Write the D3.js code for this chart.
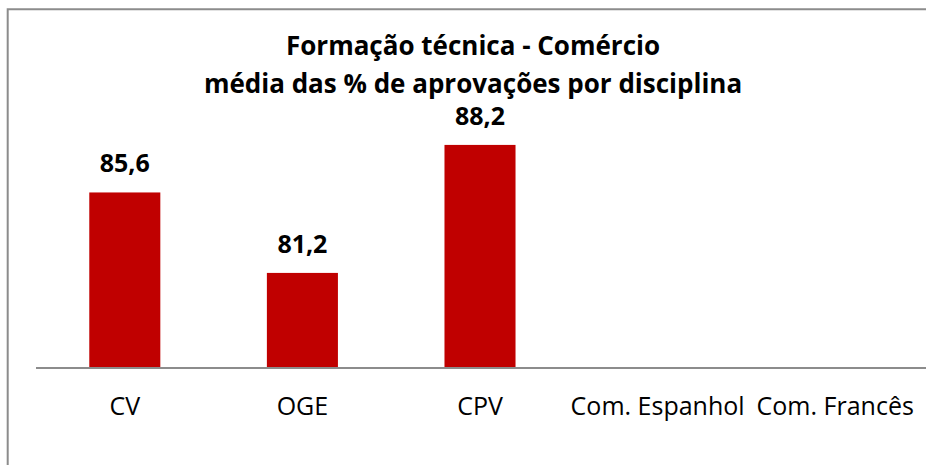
<!DOCTYPE html>
<html>
<head>
<meta charset="utf-8">
<script src="https://cdn.jsdelivr.net/npm/d3@7"></script>
<style>
  body { margin: 0; background: #fff; overflow: hidden; }
  svg { display: block; font-family: "Open Sans", "Noto Sans", sans-serif; }
</style>
</head>
<body>
<svg width="926" height="465"></svg>
<script>
// chart data
const categories = ['CV', 'OGE', 'CPV', 'Com. Espanhol', 'Com. Francês'];
const values = [85.6, 81.2, 88.2, null, null];
const labels = ['85,6', '81,2', '88,2', '', ''];
const titleLines = ['Formação técnica - Comércio', 'média das % de aprovações por disciplina'];

const width = 926, height = 465;
const margin = { left: 36, right: 2, top: 112, bottom: 97 };

const svg = d3.select('svg');

// outer frame, only left and top edges are inside the picture
svg.append('path')
    .attr('d', `M7.7,${height}V9.3H${width}`)
    .style('fill', 'none')
    .style('stroke', '#8c8c8c')
    .style('stroke-width', 2);

const x = d3.scaleBand()
    .domain(categories)
    .range([margin.left, width - margin.right])
    .paddingInner(0.6)
    .paddingOuter(0.3);

const y = d3.scaleLinear()
    .domain([76, 90])
    .range([height - margin.bottom, margin.top]);

const rows = categories.map((c, i) => ({ cat: c, value: values[i], label: labels[i] }));

// title
svg.append('text')
    .attr('x', 473)
    .attr('y', 55)
    .style('text-anchor', 'middle')
    .style('font-weight', 'bold')
    .style('font-size', '26px')
    .selectAll('tspan')
    .data(titleLines)
    .enter()
    .append('tspan')
    .attr('x', 473)
    .attr('dy', (d, i) => i === 0 ? 0 : 38)
    .text(d => d);

// bars
svg.selectAll('.bar')
    .data(rows.filter(d => d.value != null))
    .enter()
    .append('rect')
    .attr('class', 'bar')
    .attr('x', d => x(d.cat))
    .attr('y', d => y(d.value))
    .attr('width', x.bandwidth())
    .attr('height', d => y(76) - y(d.value))
    .style('fill', '#c00000');

// value labels
svg.selectAll('.val')
    .data(rows.filter(d => d.value != null))
    .enter()
    .append('text')
    .attr('class', 'val')
    .attr('x', d => x(d.cat) + x.bandwidth() / 2)
    .attr('y', d => y(d.value) - 20)
    .style('text-anchor', 'middle')
    .style('font-weight', 'bold')
    .style('font-size', '25px')
    .text(d => d.label);

// x axis
const xAxis = svg.append('g')
    .attr('transform', `translate(0,${y(76)})`)
    .call(d3.axisBottom(x).tickSize(0).tickPadding(29));

xAxis.select('.domain')
    .attr('d', `M${margin.left},0H${width}`)
    .style('stroke', '#8c8c8c')
    .style('stroke-width', 2);

xAxis.selectAll('text')
    .style('font-family', '"Open Sans", "Noto Sans", sans-serif')
    .style('font-size', '25px')
    .style('fill', '#000');
</script>
</body>
</html>
